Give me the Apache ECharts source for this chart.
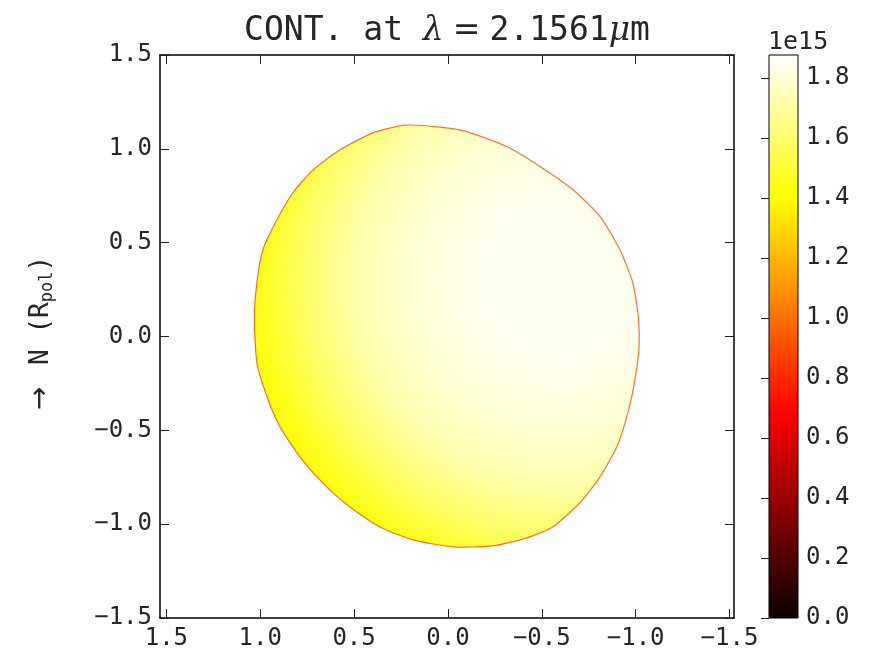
<!DOCTYPE html>
<html>
<head>
<meta charset="utf-8">
<script src="https://cdn.jsdelivr.net/npm/echarts@6/dist/echarts.min.js"></script>
<style>
  html, body { margin: 0; padding: 0; background: #fff; }
  #chart { width: 880px; height: 652px; }
</style>
</head>
<body>
<div id="chart"></div>
<script>
// Stellar limb outline in units of R_pol, traced clockwise from the top-left
const limbX = [0.40, 0.23, 0.043, -0.101, -0.314, -0.490, -0.666, -0.810, -0.916, -0.985, -1.015, -1.018, -0.996, -0.959, -0.900, -0.810, -0.703, -0.560, -0.421, -0.240, -0.027, 0.186, 0.362, 0.522, 0.666, 0.788, 0.895, 0.964, 1.018, 1.031, 1.018, 0.986, 0.911, 0.826, 0.719, 0.575];
const limbY = [1.085, 1.126, 1.116, 1.092, 1.012, 0.906, 0.782, 0.640, 0.462, 0.286, 0.100, -0.060, -0.231, -0.406, -0.588, -0.748, -0.886, -1.014, -1.073, -1.116, -1.121, -1.084, -1.015, -0.909, -0.781, -0.643, -0.481, -0.321, -0.140, 0.090, 0.286, 0.462, 0.622, 0.766, 0.888, 0.995];

// Continuum intensity (units of 1e15) against distance from the brightest point
const brightPoint = [-0.6, 0.3];
const profileRadius = [0, 0.5, 0.8, 1.1, 1.35, 1.55, 1.7];
const profileValue = [1.855, 1.84, 1.795, 1.72, 1.60, 1.48, 1.40];
// Intensity of the thin darkened rim at the limb
const rimValue = 0.9;

// Tick values
const xTicks = [1.5, 1.0, 0.5, 0.0, -0.5, -1.0, -1.5];
const yTicks = [-1.5, -1.0, -0.5, 0.0, 0.5, 1.0, 1.5];
const cbarTicks = [0.0, 0.2, 0.4, 0.6, 0.8, 1.0, 1.2, 1.4, 1.6, 1.8];
const cbarMax = 1.876;

// matplotlib "hot" colormap anchor points
const HOT = [[0, [11, 0, 0]], [0.365079, [255, 0, 0]], [0.746032, [255, 255, 0]], [1, [255, 255, 255]]];
function hot(v, alpha) {
  const t = Math.min(1, Math.max(0, v / cbarMax));
  for (let i = 1; i < HOT.length; i++) {
    if (t <= HOT[i][0]) {
      const a = HOT[i - 1], b = HOT[i];
      const f = (t - a[0]) / (b[0] - a[0]);
      const c = a[1].map((ch, k) => Math.round(ch + (b[1][k] - ch) * f));
      return 'rgba(' + c.join(',') + ',' + (alpha == null ? 1 : alpha) + ')';
    }
  }
  return 'rgba(255,255,255,1)';
}

const MONO = '"DejaVu Sans Mono", monospace';
const SANS = '"DejaVu Sans", sans-serif';
const SERIF = '"DejaVu Serif", serif';
const INK = '#262626';
const fmt = v => (Math.abs(v) < 1e-9 ? 0 : v).toFixed(1).replace('-', '\u2212');

const xMin = -1.524, xMax = 1.534;

const chart = echarts.init(document.getElementById('chart'), null, { renderer: 'canvas' });

const frameLine = { color: '#000', width: 1.5 };
const tickStyle = { color: '#222', width: 1 };

const option = {
  animation: false,
  backgroundColor: '#fff',
  grid: [
    { left: 160, top: 55, width: 574, height: 563 },
    { left: 769, top: 55, width: 29, height: 563 }
  ],
  xAxis: [
    {
      gridIndex: 0, type: 'value', min: xMin, max: xMax, inverse: true, position: 'bottom',
      axisLine: { onZero: false, lineStyle: frameLine },
      axisTick: { inside: true, length: 9, customValues: xTicks, lineStyle: tickStyle },
      axisLabel: { customValues: xTicks, formatter: fmt, margin: 9, fontFamily: MONO, fontSize: 24, color: INK },
      splitLine: { show: false }
    },
    {
      gridIndex: 0, type: 'value', min: xMin, max: xMax, inverse: true, position: 'top',
      axisLine: { onZero: false, lineStyle: frameLine },
      axisTick: { inside: true, length: 9, customValues: xTicks, lineStyle: tickStyle },
      axisLabel: { show: false },
      splitLine: { show: false }
    },
    { gridIndex: 1, type: 'value', min: 0, max: 1, show: false }
  ],
  yAxis: [
    {
      gridIndex: 0, type: 'value', min: -1.5, max: 1.5, position: 'left',
      axisLine: { onZero: false, lineStyle: frameLine },
      axisTick: { inside: true, length: 9, customValues: yTicks, lineStyle: tickStyle },
      axisLabel: { customValues: yTicks, formatter: fmt, margin: 8, fontFamily: MONO, fontSize: 24, color: INK },
      splitLine: { show: false }
    },
    {
      gridIndex: 0, type: 'value', min: -1.5, max: 1.5, position: 'right',
      axisLine: { onZero: false, lineStyle: frameLine },
      axisTick: { inside: true, length: 9, customValues: yTicks, lineStyle: tickStyle },
      axisLabel: { show: false },
      splitLine: { show: false }
    },
    {
      gridIndex: 1, type: 'value', min: 0, max: cbarMax, position: 'right', z: 5,
      axisLine: { show: false },
      axisTick: { inside: true, length: 8, customValues: cbarTicks, lineStyle: { color: '#222', width: 1 } },
      axisLabel: { customValues: cbarTicks, formatter: v => v.toFixed(1), margin: 8, fontFamily: MONO, fontSize: 24, color: INK },
      splitLine: { show: false }
    }
  ],
  series: [
    {
      // Projected stellar disc, shaded by continuum intensity
      type: 'custom', coordinateSystem: 'cartesian2d', xAxisIndex: 0, yAxisIndex: 0,
      data: [[brightPoint[0], brightPoint[1]]],
      renderItem: function (params, api) {
        const pts = limbX.map((x, i) => api.coord([x, limbY[i]]));
        const c = api.coord(brightPoint);
        const rMax = profileRadius[profileRadius.length - 1];
        const e = api.coord([brightPoint[0] + rMax, brightPoint[1]]);
        const R = Math.abs(e[0] - c[0]);
        const stops = profileRadius.map((r, i) => ({ offset: r / rMax, color: hot(profileValue[i]) }));
        return {
          type: 'polygon',
          shape: { points: pts, smooth: 0.2 },
          style: {
            fill: new echarts.graphic.RadialGradient(c[0], c[1], R, stops, true),
            stroke: hot(rimValue, 0.8),
            lineWidth: 1.2
          }
        };
      }
    },
    {
      // Colour bar
      type: 'custom', coordinateSystem: 'cartesian2d', xAxisIndex: 2, yAxisIndex: 2,
      data: [[0, 0]],
      renderItem: function (params, api) {
        const p0 = api.coord([0, 0]);
        const p1 = api.coord([1, cbarMax]);
        const stops = HOT.map(s => ({ offset: s[0], color: 'rgb(' + s[1].join(',') + ')' }));
        const rect = { x: p0[0], y: p1[1], width: p1[0] - p0[0], height: p0[1] - p1[1] };
        return {
          type: 'group',
          children: [
            { type: 'rect', shape: rect, style: { fill: new echarts.graphic.LinearGradient(0, p0[1], 0, p1[1], stops, true) } },
            { type: 'rect', shape: rect, style: { fill: null, stroke: '#000', lineWidth: 1 } }
          ]
        };
      }
    }
  ],
  graphic: [
    {
      type: 'text', x: 447, y: 31,
      style: {
        text: '{a|CONT. at }{l|\u03bb}{e|=}{a|2.1561}{l|\u03bc}{a|m}',
        align: 'center', verticalAlign: 'middle',
        rich: {
          a: { fontFamily: MONO, fontSize: 33, fill: INK },
          l: { fontFamily: SERIF, fontStyle: 'italic', fontSize: 33, fill: INK },
          e: { fontFamily: SERIF, fontSize: 33, fill: INK, padding: [0, 9, 0, 9] }
        }
      }
    },
    {
      type: 'text', x: 41, y: 333, rotation: Math.PI / 2,
      style: {
        text: '{r|\u2192}{a| N (R}{s|pol}{a|)}',
        align: 'center', verticalAlign: 'middle',
        rich: {
          r: { fontFamily: SANS, fontSize: 28, fill: INK, lineHeight: 32, verticalAlign: 'middle', padding: [0, 6, 0, 0] },
          a: { fontFamily: MONO, fontSize: 26, fill: INK, lineHeight: 32, verticalAlign: 'middle' },
          s: { fontFamily: MONO, fontSize: 17, fill: INK, lineHeight: 32, verticalAlign: 'bottom', padding: [0, 0, 1, 0] }
        }
      }
    },
    {
      type: 'text', x: 768, y: 42,
      style: { text: '1e15', fontFamily: MONO, fontSize: 25, fill: INK, align: 'left', verticalAlign: 'middle' }
    }
  ]
};

chart.setOption(option);
</script>
</body>
</html>
